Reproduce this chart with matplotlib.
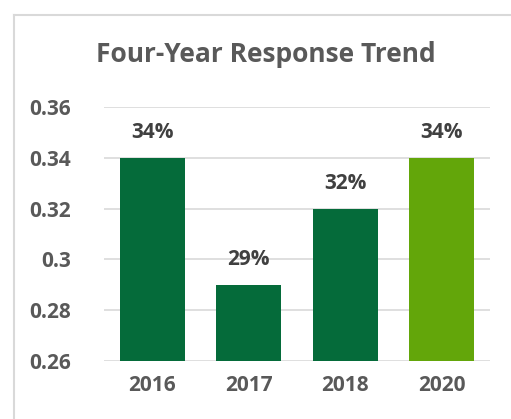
import matplotlib
matplotlib.use("Agg")
import matplotlib.pyplot as plt
from matplotlib.lines import Line2D

years = ["2016", "2017", "2018", "2020"]
values = [0.34, 0.29, 0.32, 0.34]
labels = ["34%", "29%", "32%", "34%"]
colors = ["#056B3A", "#056B3A", "#056B3A", "#63A60A"]
yticks = [0.26, 0.28, 0.30, 0.32, 0.34, 0.36]
ytick_labels = ["0.26", "0.28", "0.3", "0.32", "0.34", "0.36"]

plt.rcParams['font.family'] = ['Open Sans', 'DejaVu Sans']
W, H = 511, 419
fig = plt.figure(figsize=(W/100, H/100), dpi=100)
ax = fig.add_axes([104/W, 1-361/H, (490-104)/W, (361-107)/H])

x = range(len(years))
ax.bar(x, [v - 0.26 for v in values], bottom=0.26, width=0.67, color=colors, zorder=3)
for i, (v, l) in enumerate(zip(values, labels)):
    ax.annotate(l, (i, v), xytext=(0, 18), textcoords='offset points', ha='center', va='center',
                fontsize=15, fontweight='bold', color='#404040')
ax.set_ylim(0.26, 0.36)
ax.set_xlim(-0.5, 3.5)
ax.set_yticks(yticks)
ax.set_yticklabels(ytick_labels)
ax.set_xticks(list(x))
ax.set_xticklabels(years)
ax.tick_params(axis='both', length=0, labelsize=15, colors='#595959')
ax.tick_params(axis='y', pad=24)
ax.tick_params(axis='x', pad=10)
for t in ax.get_xticklabels() + ax.get_yticklabels():
    t.set_fontweight('bold')
ax.grid(axis='y', color='#D9D9D9', linewidth=1.2, zorder=0)
for s in ax.spines.values():
    s.set_visible(False)

fig.text(266/W, 1-55/H, "Four-Year Response Trend", ha='center', va='center',
         fontsize=19, fontweight='bold', color='#595959')

fig.add_artist(Line2D([14/W, 14/W], [0, 1-15/H], transform=fig.transFigure, color='#D9D9D9', linewidth=1.5))
fig.add_artist(Line2D([14/W, 1], [1-15/H, 1-15/H], transform=fig.transFigure, color='#D9D9D9', linewidth=1.5))

fig.savefig("out.png", dpi=100)
